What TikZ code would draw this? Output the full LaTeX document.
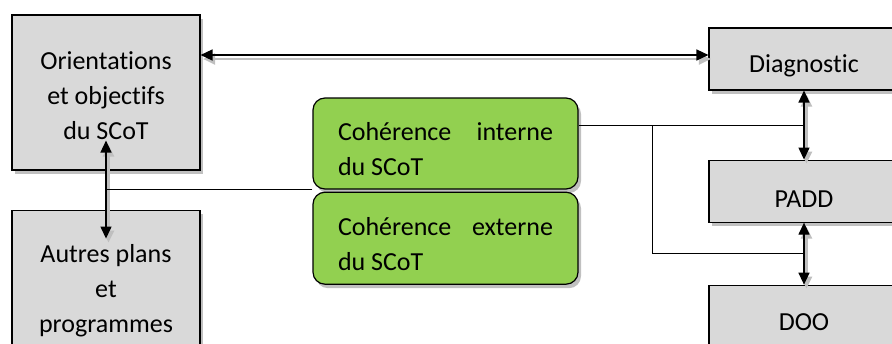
\documentclass[tikz,border=0pt]{standalone}
\usepackage{fontspec}
\setmainfont{Carlito}[Ligatures=NoCommon]
\usetikzlibrary{arrows.meta,positioning,calc,shadows}
\definecolor{boxgray}{HTML}{D9D9D9}
\definecolor{leaf}{HTML}{92D050}

\begin{document}
\begin{tikzpicture}[
  x=1pt, y=-1pt,
  font=\fontsize{26}{35}\selectfont,
  blk/.style={draw, fill=boxgray, line width=1.1pt, align=center, inner sep=0pt,
              drop shadow={shadow xshift=3pt, shadow yshift=-4pt, fill=black!45, opacity=.55}},
  coh/.style={draw, fill=leaf, line width=1.2pt, rounded corners=12pt, minimum width=265pt,
              text width=215pt, inner xsep=25pt, align=flush left, text height=30pt,
              drop shadow={shadow xshift=3pt, shadow yshift=-4pt, fill=black!45, opacity=.55}},
  both/.style={{Triangle[length=12pt,width=11pt]}-{Triangle[length=12pt,width=11pt]}, line width=1.3pt,
               preaction={draw=black!25, line width=2.5pt, transform canvas={shift={(2.5pt,-4pt)}}}},
  wire/.style={line width=1pt}]

\useasboundingbox (0,0) rectangle (892,343);

% left column
\node[blk, minimum width=188pt, minimum height=155pt, text height=94pt] (orient) at (106,92.5) {Orientations\\et objectifs\\du SCoT};
\node[blk, minimum width=188pt, minimum height=155pt, text height=94pt, below=39pt of orient] (autres) {Autres plans\\et\\programmes};

% right column
\node[blk, minimum width=190pt, minimum height=62pt, text height=32pt] (diag) at (804,59) {Diagnostic};
\node[blk, minimum width=190pt, minimum height=62pt, text height=32pt, below=69pt of diag] (padd) {PADD};
\node[blk, minimum width=190pt, minimum height=62pt, text height=28pt, below=62pt of padd] (doo) {DOO};

% coherence checks
\node[coh, minimum height=91pt] (int) at (445.5,143.5) {Coh\'erence\hfill interne\\du SCoT};
\node[coh, minimum height=92pt, below=2pt of int] (ext) {Coh\'erence\hfill externe\\du SCoT};

\coordinate (top) at ([yshift=4pt]diag.west);
\coordinate (m1) at ($(diag.south)!0.5!(padd.north)$);
\coordinate (m2) at ($(padd.south)!0.5!(doo.north)$);
\coordinate (split) at ($(int.east |- m1)!0.33!(m1)$);

\draw[both] (orient.east |- top) -- (top);
\draw[both] ([yshift=30pt]orient.south) -- ([yshift=-29pt]autres.north);
\draw[both] (diag.south) -- (padd.north);
\draw[both] (padd.south) -- (doo.north);

\draw[wire] (int.south west) -- (int.south west -| orient.south);
\draw[wire] (int.east |- m1) -- (m1);
\draw[wire] (split) |- (m2);
\end{tikzpicture}
\end{document}
